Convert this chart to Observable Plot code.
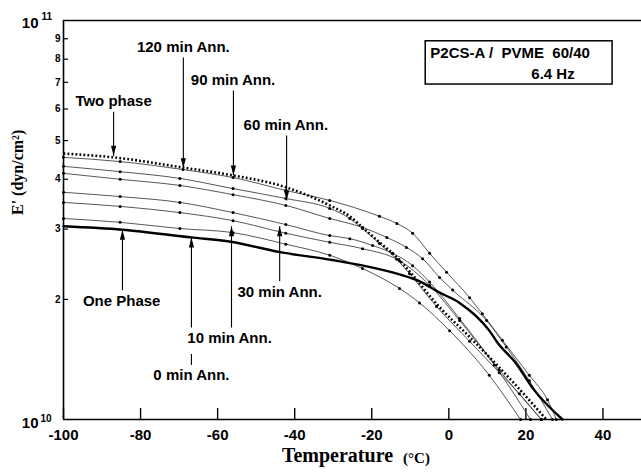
<!DOCTYPE html>
<html><head><meta charset="utf-8">
<script src="https://cdn.jsdelivr.net/npm/d3@7"></script>
<script src="https://cdn.jsdelivr.net/npm/@observablehq/plot@0.6"></script>
<style>
html,body{margin:0;padding:0;background:#fff;}
#chart svg{display:block;}
</style>
</head><body><div id="chart"></div>
<script>
// E' in units of 10^10 dyn/cm^2, temperature in °C
const twoPhaseT = [-100,-87.1,-69.0,-56.0,-42.3,-30.9,-25.7,-22.4,-18.0,-13.5,-10.2,-3.2,5.4,13.1,20.1,25.3];
const twoPhaseE = [4.64,4.54,4.28,4.09,3.82,3.44,3.23,3.03,2.78,2.55,2.35,1.95,1.61,1.35,1.14,1.00];
const onePhaseT = [-100,-84.8,-66.9,-56.6,-44.1,-30.2,-21.3,-12.8,-7.6,-2.4,2.8,10.5,12.6,17.5,21.7,29.5];
const onePhaseE = [3.05,2.99,2.86,2.79,2.63,2.51,2.42,2.31,2.22,2.08,1.96,1.67,1.56,1.38,1.20,1.00];
const ann120T = [-100,-85.3,-69.0,-56.0,-42.3,-30.9,-18.0,-13.5,-9.4,-5.0,-0.6,5.4,8.7,13.9,20.9,25.6,27.9];
const ann120E = [4.54,4.43,4.23,4.04,3.75,3.54,3.23,3.10,2.93,2.61,2.34,2.02,1.84,1.58,1.29,1.12,1.00];
const ann90T = [-100,-85.3,-69.8,-56.0,-42.3,-30.9,-25.7,-22.4,-18.0,-13.5,-10.2,-3.2,5.4,13.1,18.3,24.0];
const ann90E = [4.31,4.18,4.02,3.79,3.58,3.38,3.19,3.01,2.76,2.52,2.32,1.92,1.57,1.31,1.16,1.00];
const ann60T = [-100,-85.3,-69.8,-56.0,-42.3,-30.9,-22.4,-16.1,-11.0,-6.8,-2.4,1.0,9.8,14.9,20.9,26.9];
const ann60E = [4.14,4.00,3.86,3.66,3.44,3.19,3.03,2.86,2.70,2.53,2.27,2.11,1.77,1.52,1.25,1.00];
const ann30T = [-100,-85.3,-69.8,-56.0,-42.3,-30.9,-25.7,-19.8,-14.6,-9.4,-5.0,2.8,13.1,24.0];
const ann30E = [3.71,3.62,3.50,3.30,3.08,2.89,2.84,2.73,2.61,2.43,2.21,1.79,1.33,1.00];
const ann10T = [-100,-85.3,-69.8,-56.0,-42.3,-30.9,-22.4,-12.8,-5.0,2.8,11.8,21.2];
const ann10E = [3.50,3.42,3.30,3.15,2.93,2.78,2.68,2.50,2.17,1.77,1.37,1.00];
const ann0T = [-100,-85.3,-69.8,-56.0,-42.3,-30.9,-22.4,-12.8,-7.6,0.2,10.5,18.6];
const ann0E = [3.19,3.12,3.01,2.94,2.75,2.58,2.39,2.13,1.96,1.67,1.29,1.00];

const xTicks = [-100,-80,-60,-40,-20,0,20,40];
const yTicks = [2,3,4,5,6,7,8,9];

// annotation labels and arrows
const labelText = ["120 min Ann.","90 min Ann.","60 min Ann.","Two phase","One Phase","30 min Ann.","10 min Ann.","0 min Ann."];
const labelT = [-68.9,-56.0,-42.3,-87.0,-84.9,-43.9,-56.9,-66.8];
const labelE = [8.56,7.07,5.46,6.27,1.98,2.08,1.60,1.29];
const arrowT  = [-68.9,-55.9,-42.1,-87.0,-84.7,-43.9,-56.4,-66.8,-66.8];
const arrowE1 = [8.08,6.68,5.15,5.91,2.11,2.22,1.70,1.37,1.70];
const arrowE2 = [4.26,4.09,3.54,4.58,2.99,3.05,3.05,1.46,2.86];
const arrowHead = [true,true,true,true,true,true,true,false,true];

const boxT = [-6.0, 42.5];
const boxE = [8.87, 6.91];
const boxLine1 = "P2CS-A /\u00a0 PVME\u00a0 60/40";
const boxLine2 = "6.4 Hz";
const boxTextT = [-4.8, 21.4];
const boxTextE = [8.27, 7.34];

const rows = (name, T, E) => T.map((t, i) => ({name, t, e: E[i]}));
const thinRows = [
  ...rows("120 min", ann120T, ann120E),
  ...rows("90 min", ann90T, ann90E),
  ...rows("60 min", ann60T, ann60E),
  ...rows("30 min", ann30T, ann30E),
  ...rows("10 min", ann10T, ann10E),
  ...rows("0 min", ann0T, ann0E)
];
const twoRows = rows("Two phase", twoPhaseT, twoPhaseE);
const oneRows = rows("One Phase", onePhaseT, onePhaseE);
const arrows = arrowT.map((t, i) => ({t, e1: arrowE1[i], e2: arrowE2[i], head: arrowHead[i], up: arrowE2[i] > arrowE1[i]}));

const headSym = {draw(ctx) { ctx.moveTo(0, 0); ctx.lineTo(-2.6, -10); ctx.lineTo(2.6, -10); ctx.closePath(); }};

const sans = "'Liberation Sans', Arial, Helvetica, sans-serif";
const serif = "'Liberation Serif', 'Times New Roman', serif";

const chart = Plot.plot({
  width: 641, height: 472,
  marginLeft: 63, marginRight: 0, marginTop: 20, marginBottom: 53,
  style: {fontFamily: sans, background: "#fff", color: "#000"},
  x: {domain: [-100, 50]},
  y: {type: "log", domain: [1, 10]},
  marks: [
    Plot.ruleY([10], {strokeWidth: 1.6}),
    Plot.ruleY([1], {strokeWidth: 1.6}),
    Plot.ruleX([-100], {strokeWidth: 1.6}),
    Plot.tickX(xTicks, {x: d => d, insetTop: 388, strokeWidth: 1.4}),
    Plot.tickY(yTicks, {y: d => d, insetRight: 573, strokeWidth: 1.2}),
    Plot.axisX(xTicks, {tickSize: 0, tickPadding: 10, tickFormat: d => String(d), fontSize: 15, fontWeight: "bold", label: null}),
    Plot.axisY(yTicks, {tickSize: 0, tickPadding: 3, tickFormat: d => String(d), fontSize: 10, fontWeight: "bold", label: null}),
    // decade labels
    Plot.text(["10"], {x: () => -100, y: () => 10, text: d => d, textAnchor: "end", dx: -25, dy: 3, fontSize: 15, fontWeight: "bold"}),
    Plot.text(["11"], {x: () => -100, y: () => 10, text: d => d, textAnchor: "start", dx: -22, dy: -4, fontSize: 10, fontWeight: "bold"}),
    Plot.text(["10"], {x: () => -100, y: () => 1, text: d => d, textAnchor: "end", dx: -25, dy: 4, fontSize: 15, fontWeight: "bold"}),
    Plot.text(["10"], {x: () => -100, y: () => 1, text: d => d, textAnchor: "start", dx: -23, dy: -1, fontSize: 10, fontWeight: "bold"}),
    // axis titles
    Plot.text(["Temperature"], {frameAnchor: "bottom", text: d => d, dx: -15, dy: 42, fontSize: 20, fontWeight: "bold", fontFamily: serif}),
    Plot.text(["(\u00b0C)"], {frameAnchor: "bottom", text: d => d, dx: 64, dy: 43, fontSize: 15, fontWeight: "bold", fontFamily: serif}),
    Plot.text(["E' (dyn/cm\u00b2)"], {frameAnchor: "left", text: d => d, rotate: -90, dx: -46, dy: -5, fontSize: 16, fontWeight: "bold", fontFamily: serif}),
    // curves
    Plot.line(thinRows, {x: "t", y: "e", z: "name", stroke: "#444", strokeWidth: 0.9, curve: "monotone-x"}),
    Plot.dot(thinRows, {x: "t", y: "e", r: 1.5, fill: "#000", stroke: "none"}),
    Plot.line(oneRows, {x: "t", y: "e", stroke: "#000", strokeWidth: 2.4, curve: "monotone-x"}),
    Plot.line(twoRows, {x: "t", y: "e", stroke: "#000", strokeWidth: 2.6, strokeDasharray: "1.8,2.2", strokeLinecap: "butt", curve: "monotone-x"}),
    // annotations
    Plot.link(arrows, {x1: "t", y1: "e1", x2: "t", y2: "e2", stroke: "#000", strokeWidth: 1.1}),
    Plot.dot(arrows.filter(a => a.head), {x: "t", y: "e2", symbol: headSym, fill: "#000", stroke: "none", rotate: a => a.up ? 180 : 0}),
    Plot.text(labelText, {x: (d, i) => labelT[i], y: (d, i) => labelE[i], text: d => d, fontSize: 15, fontWeight: "bold"}),
    Plot.rect([0], {x1: () => boxT[0], x2: () => boxT[1], y1: () => boxE[0], y2: () => boxE[1], fill: "none", stroke: "#000", strokeWidth: 1.5}),
    Plot.text([boxLine1], {x: () => boxTextT[0], y: () => boxTextE[0], text: d => d, textAnchor: "start", fontSize: 15, fontWeight: "bold"}),
    Plot.text([boxLine2], {x: () => boxTextT[1], y: () => boxTextE[1], text: d => d, textAnchor: "start", fontSize: 15, fontWeight: "bold"})
  ]
});
document.getElementById("chart").appendChild(chart);
</script>
</body></html>
